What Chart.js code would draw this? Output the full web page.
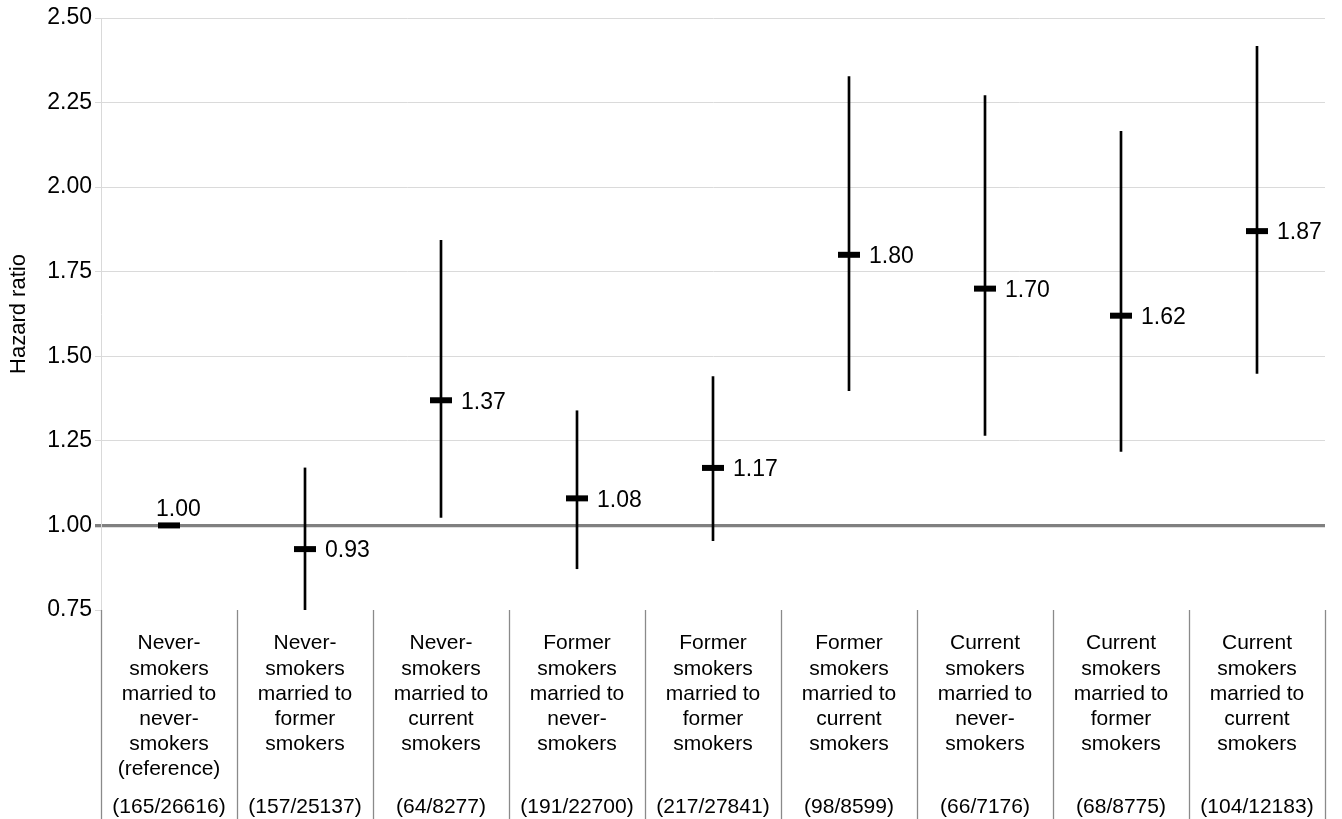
<!DOCTYPE html>
<html>
<head>
<meta charset="utf-8">
<script src="https://cdn.jsdelivr.net/npm/chart.js@4"></script>
<style>
  html, body { margin: 0; padding: 0; background: #fff; }
  #box { width: 1342px; height: 819px; position: relative; }
</style>
</head>
<body>
<div id="box"><canvas id="graficoHR"></canvas></div>
<script>
// categorias (eixo x), uma linha por elemento
const categorias = [
  ['Never-', 'smokers', 'married to', 'never-', 'smokers', '(reference)'],
  ['Never-', 'smokers', 'married to', 'former', 'smokers'],
  ['Never-', 'smokers', 'married to', 'current', 'smokers'],
  ['Former', 'smokers', 'married to', 'never-', 'smokers'],
  ['Former', 'smokers', 'married to', 'former', 'smokers'],
  ['Former', 'smokers', 'married to', 'current', 'smokers'],
  ['Current', 'smokers', 'married to', 'never-', 'smokers'],
  ['Current', 'smokers', 'married to', 'former', 'smokers'],
  ['Current', 'smokers', 'married to', 'current', 'smokers']
];
const casos = ['(165/26616)', '(157/25137)', '(64/8277)', '(191/22700)', '(217/27841)',
               '(98/8599)', '(66/7176)', '(68/8775)', '(104/12183)'];

// hazard ratio e intervalo de confiança
const hazardRatio = [1.00, 0.93, 1.37, 1.08, 1.17, 1.80, 1.70, 1.62, 1.87];
const icInferior  = [null, 0.745, 1.024, 0.872, 0.955, 1.398, 1.266, 1.219, 1.449];
const icSuperior  = [null, 1.170, 1.843, 1.339, 1.440, 2.327, 2.271, 2.165, 2.416];

// ticks do eixo y
const yMin = 0.75, yMax = 2.50, yPasso = 0.25;

const fonte = '"Liberation Sans", Arial, Helvetica, sans-serif';

// rótulos dos valores, separadores das categorias e números de casos
const rotulosPlugin = {
  id: 'rotulos',
  afterDraw(chart) {
    const ctx = chart.ctx;
    const x = chart.scales.x;
    const area = chart.chartArea;
    ctx.save();

    // separadores abaixo do eixo
    const meio = (x.getPixelForValue(1) - x.getPixelForValue(0)) / 2;
    ctx.strokeStyle = '#8a8a8a';
    ctx.lineWidth = 1.3;
    for (let i = 0; i <= categorias.length; i++) {
      const px = Math.round(x.getPixelForValue(0) - meio + i * meio * 2) + 0.5;
      ctx.beginPath();
      ctx.moveTo(px, area.bottom);
      ctx.lineTo(px, chart.height);
      ctx.stroke();
    }

    // valores ao lado dos marcadores
    const meta = chart.getDatasetMeta(1);
    ctx.fillStyle = '#000';
    ctx.font = '23px ' + fonte;
    meta.data.forEach((pt, i) => {
      const txt = hazardRatio[i].toFixed(2);
      ctx.textAlign = 'left';
      if (icInferior[i] === null) {
        ctx.textBaseline = 'bottom';
        ctx.fillText(txt, pt.x - 13, pt.y - 4);
      } else {
        ctx.textBaseline = 'middle';
        ctx.fillText(txt, pt.x + 20, pt.y + 2);
      }
    });

    // números de casos no rodapé
    ctx.font = '21px ' + fonte;
    ctx.textAlign = 'center';
    ctx.textBaseline = 'middle';
    casos.forEach((c, i) => {
      ctx.fillText(c, x.getPixelForValue(i), chart.height - 12);
    });
    ctx.restore();
  }
};

new Chart(document.getElementById('graficoHR'), {
  data: {
    labels: categorias,
    datasets: [
      {
        type: 'bar',
        label: 'IC 95%',
        data: icInferior.map((v, i) => v === null ? null : [v, icSuperior[i]]),
        backgroundColor: '#000',
        borderWidth: 0,
        barThickness: 2,
        grouped: false,
        order: 1
      },
      {
        type: 'line',
        label: 'Hazard ratio',
        data: hazardRatio,
        showLine: false,
        pointStyle: 'line',
        pointRadius: 11,
        pointBorderWidth: 6,
        pointBorderColor: '#000',
        borderColor: '#000',
        order: 0
      }
    ]
  },
  options: {
    responsive: true,
    maintainAspectRatio: false,
    animation: false,
    layout: { padding: { top: 18, right: 8, left: 0, bottom: 0 } },
    plugins: {
      legend: { display: false },
      tooltip: { enabled: false }
    },
    scales: {
      x: {
        type: 'category',
        offset: true,
        border: { display: false },
        grid: { display: false },
        ticks: {
          padding: 13,
          maxRotation: 0,
          autoSkip: false,
          color: '#000',
          font: { family: fonte, size: 21, lineHeight: 1.2 }
        },
        afterFit: scale => { scale.height = 209; }
      },
      y: {
        min: yMin,
        max: yMax,
        border: { display: true, color: '#d9d9d9', width: 1 },
        grid: {
          color: ctx => {
            const v = ctx.tick ? ctx.tick.value : null;
            if (v !== null && Math.abs(v - 1) < 1e-6) return '#808080';
            if (v !== null && Math.abs(v - yMin) < 1e-6) return 'rgba(0,0,0,0)';
            return '#dadada';
          },
          lineWidth: ctx => (ctx.tick && Math.abs(ctx.tick.value - 1) < 1e-6) ? 3.3 : 1,
          tickColor: ctx => (ctx.tick && Math.abs(ctx.tick.value - 1) < 1e-6) ? '#808080' : '#d9d9d9',
          tickLength: 6
        },
        ticks: {
          stepSize: yPasso,
          padding: 3,
          color: '#000',
          font: { family: fonte, size: 23 },
          callback: v => Number(v).toFixed(2)
        },
        title: {
          display: true,
          text: 'Hazard ratio',
          color: '#000',
          font: { family: fonte, size: 22 },
          padding: { top: 6, bottom: 0 }
        },
        afterFit: scale => { scale.width = 101; }
      }
    }
  },
  plugins: [rotulosPlugin]
});
</script>
</body>
</html>
